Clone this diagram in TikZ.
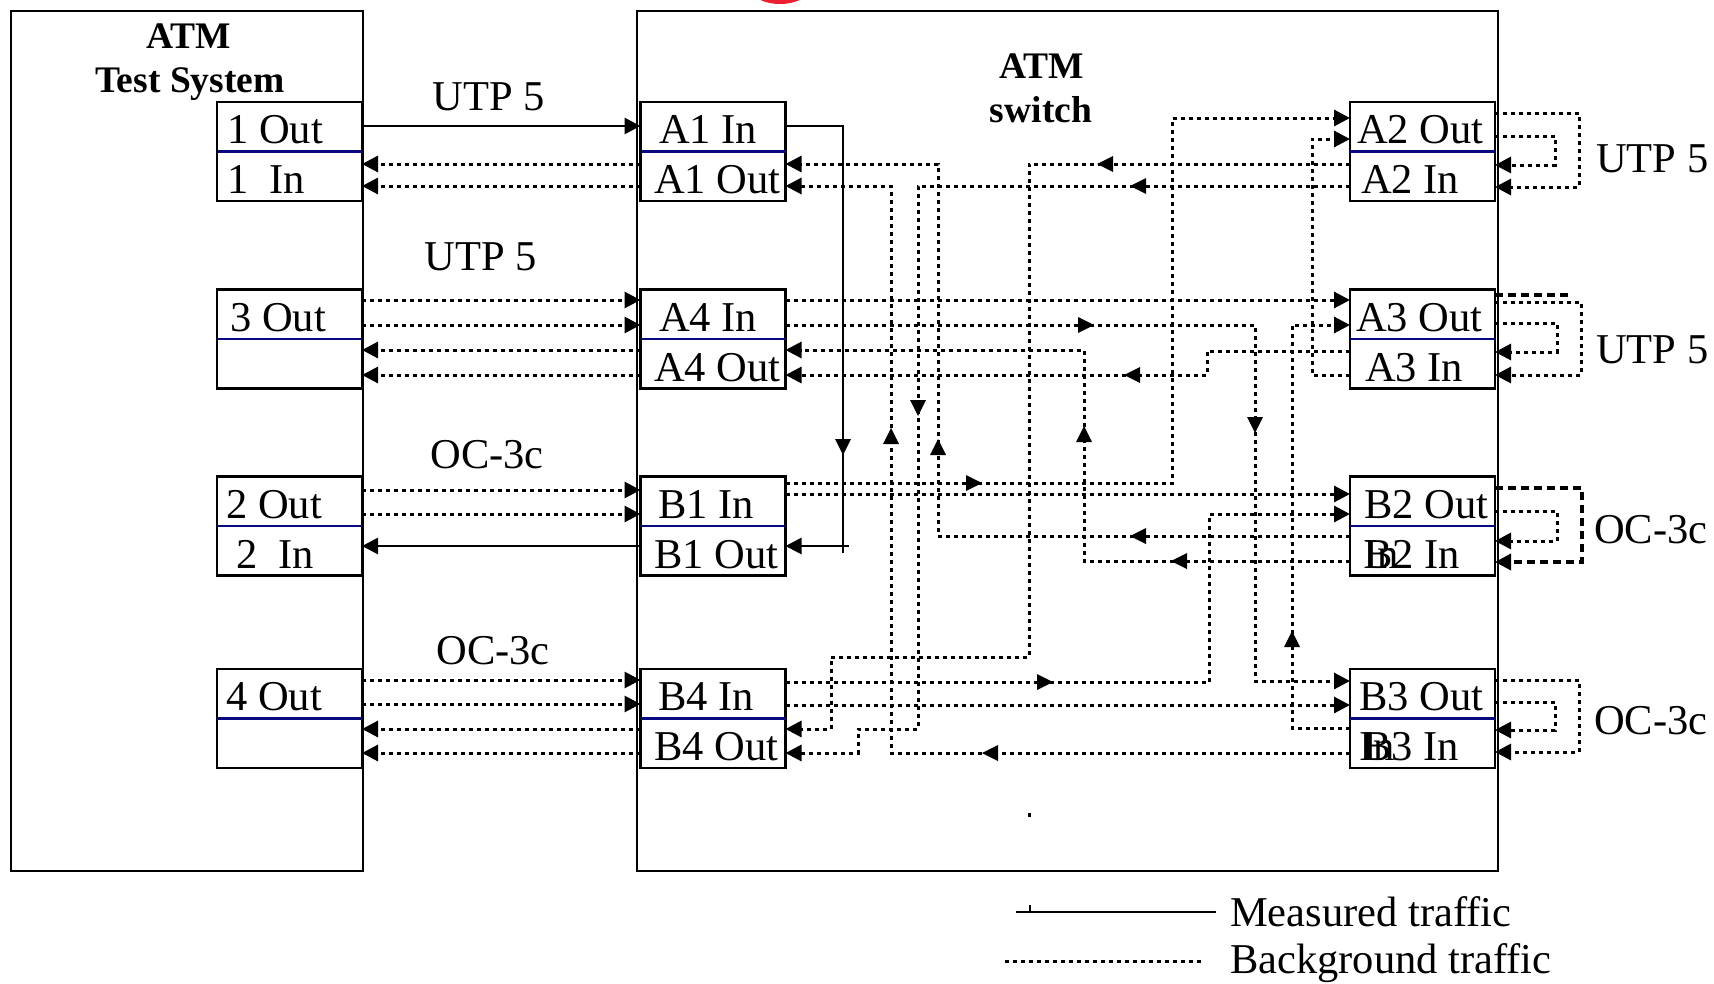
\documentclass[tikz,border=0pt]{standalone}
\usepackage{fontspec}
\setmainfont{Liberation Serif}
\usetikzlibrary{arrows.meta}
\definecolor{divblue}{RGB}{10,10,128}
\definecolor{logored}{RGB}{235,30,50}
\newcommand\pfont{\fontsize{42.5}{46}\selectfont}
\newcommand\tfont{\fontsize{37.5}{41}\selectfont\bfseries}
\newcommand\tipR[2]{\fill (#1,#2) -- ++(-16,-8) -- ++(0,16) -- cycle;}
\newcommand\tipL[2]{\fill (#1,#2) -- ++(16,-8) -- ++(0,16) -- cycle;}
\newcommand\tipU[2]{\fill (#1,#2) -- ++(-8,16) -- ++(16,0) -- cycle;}
\newcommand\tipD[2]{\fill (#1,#2) -- ++(-8,-16) -- ++(16,0) -- cycle;}
\begin{document}
\begin{tikzpicture}[x=1pt,y=-1pt,
  >={Triangle[length=16pt,width=16pt]},
  bigbox/.style={draw, line width=2.2pt, inner sep=0pt, outer sep=0pt},
  port/.style={draw, fill=white, line width=2.8pt, minimum width=145pt, minimum height=99pt, inner sep=0pt, outer sep=0pt},
  divl/.style={draw=divblue, line width=2.2pt},
  bgl/.style={line width=3pt, dash pattern=on 4pt off 4pt},
  bgdash/.style={line width=3.5pt, dash pattern=on 8pt off 5pt},
  msl/.style={line width=2.8pt},
  lbl/.style={font=\pfont, inner sep=0pt, anchor=base west},
  lblc/.style={font=\pfont, inner sep=0pt, anchor=base},
  ttl/.style={font=\tfont, inner sep=0pt, anchor=base}]
\useasboundingbox (0,0) rectangle (1714,983);
\fill[logored] (780,-10) ellipse (28 and 14);

% big boxes
\node[bigbox, minimum width=352pt, minimum height=860pt] (ts) at (187,441) {};
\node[bigbox, minimum width=861pt, minimum height=860pt] (sw) at (1067.5,441) {};
\node[ttl] (tsa) at (189,48) {ATM};
\node[ttl] (tsb) at (190,92) {Test System};
\node[ttl] (swa) at (1042,78) {ATM};
\node[ttl] (swb) at (1041,122) {switch};

% ports
\node[port] (p1) at (289.5,151.5) {};
\node[port] (p3) at (289.5,339) {};
\node[port] (p2) at (289.5,526) {};
\node[port] (p4) at (289.5,718.5) {};
\node[port] (a1) at (713,151.5) {};
\node[port] (a4) at (713,339) {};
\node[port] (b1) at (713,526) {};
\node[port] (b4) at (713,718.5) {};
\node[port] (a2) at (1422.5,151.5) {};
\node[port] (a3) at (1422.5,339) {};
\node[port] (b2) at (1422.5,526) {};
\node[port] (b3) at (1422.5,718.5) {};
\foreach \n in {p1,p3,p2,p4,a1,a4,b1,b4,a2,a3,b2,b3}
  \draw[divl] (\n.west) -- (\n.east);

% port texts
\node[lbl] (t1o) at (227,143) {1 Out};
\node[lbl] (t1i) at (227,193) {1~~In};
\node[lbl] (t3o) at (230,331) {3 Out};
\node[lbl] (t2o) at (226,518) {2 Out};
\node[lbl] (t2i) at (236,568) {2~~In};
\node[lbl] (t4o) at (226,710) {4 Out};
\node[lbl] (ta1i) at (659,143) {A1 In};
\node[lbl] (ta1o) at (654,193) {A1 Out};
\node[lbl] (ta4i) at (659,331) {A4 In};
\node[lbl] (ta4o) at (654,381) {A4 Out};
\node[lbl] (tb1i) at (658,518) {B1 In};
\node[lbl] (tb1o) at (654,568) {B1 Out};
\node[lbl] (tb4i) at (658,710) {B4 In};
\node[lbl] (tb4o) at (654,760) {B4 Out};
\node[lbl] (ta2o) at (1357,143) {A2 Out};
\node[lbl] (ta2i) at (1361,193) {A2 In};
\node[lbl] (ta3o) at (1356,331) {A3 Out};
\node[lbl] (ta3i) at (1365,381) {A3 In};
\node[lbl] (tb2o) at (1364,518) {B2 Out};
\node[lbl] (tb2i) at (1364,568) {B2 In};
\node[lbl] (tb2x) at (1363,568) {In};
\node[lbl] (tb3o) at (1359,710) {B3 Out};
\node[lbl] (tb3i) at (1363,760) {B3 In};
\node[lbl] (tb3x) at (1359,760) {In};

% link labels
\node[lblc] (l1) at (489,110) {UTP 5};
\node[lblc] (l2) at (481,270) {UTP 5};
\node[lblc] (l3) at (487,468) {OC-3c};
\node[lblc] (l4) at (493,664) {OC-3c};
\node[lbl] (r1) at (1596,172) {UTP 5};
\node[lbl] (r2) at (1596,363) {UTP 5};
\node[lbl] (r3) at (1594,543) {OC-3c};
\node[lbl] (r4) at (1594,734) {OC-3c};

% test system <-> switch
\draw[msl,->] (p1.east|-0,126) -- (a1.west|-0,126);
\draw[bgl,->] (a1.west|-0,164) -- (p1.east|-0,164);
\draw[bgl,->] (a1.west|-0,186) -- (p1.east|-0,186);
\draw[bgl,->] (p3.east|-0,300) -- (a4.west|-0,300);
\draw[bgl,->] (p3.east|-0,325) -- (a4.west|-0,325);
\draw[bgl,->] (a4.west|-0,350) -- (p3.east|-0,350);
\draw[bgl,->] (a4.west|-0,375) -- (p3.east|-0,375);
\draw[bgl,->] (p2.east|-0,490) -- (b1.west|-0,490);
\draw[bgl,->] (p2.east|-0,514) -- (b1.west|-0,514);
\draw[msl,->] (b1.west|-0,546) -- (p2.east|-0,546);
\draw[bgl,->] (p4.east|-0,680) -- (b4.west|-0,680);
\draw[bgl,->] (p4.east|-0,704) -- (b4.west|-0,704);
\draw[bgl,->] (b4.west|-0,729) -- (p4.east|-0,729);
\draw[bgl,->] (b4.west|-0,753) -- (p4.east|-0,753);

% measured path inside switch
\coordinate (mc1) at (843,126);
\coordinate (mc2) at (843,553);
\coordinate (mc3) at (849,546);
\draw[msl] (a1.east|-0,126) -- (mc1) -- (mc2);
\draw[msl,->] (mc3) -- (b1.east|-0,546);
\tipD{843}{455}

% background paths inside switch
\draw[bgl,->] (a2.west|-0,164) -| (1029,657) -| (831,729) -- (b4.east|-0,729);
\tipL{1097}{164}
\draw[bgl,->] (a2.west|-0,186) -| (918,729) -| (858,753) -- (b4.east|-0,753);
\tipL{1130}{186} \tipD{918}{416}
\draw[bgl,->] (b2.west|-0,536) -| (938,164) -- (a1.east|-0,164);
\tipL{1130}{536} \tipU{938}{439}
\draw[bgl,->] (b3.west|-0,753) -| (891,186) -- (a1.east|-0,186);
\tipL{982}{753} \tipU{891}{428}
\draw[bgl,->] (a4.east|-0,300) -- (a3.west|-0,300);
\draw[bgl,->] (a4.east|-0,325) -| (1255,681) -- (b3.west|-0,681);
\tipR{1094}{325} \tipD{1255}{433}
\draw[bgl,->] (b3.west|-0,728) -| (1292,325) -- (a3.west|-0,325);
\tipU{1292}{631}
\draw[bgl,->] (a3.west|-0,375) -| (1312,139) -- (a2.west|-0,139);
\draw[bgl,->] (a3.west|-0,351) -| (1207,375) -- (a4.east|-0,375);
\tipL{1124}{375}
\draw[bgl,->] (b2.west|-0,561) -| (1084,350) -- (a4.east|-0,350);
\tipL{1171}{561} \tipU{1084}{426}
\draw[bgl,->] (b1.east|-0,483) -| (1172,118) -- (a2.west|-0,118);
\tipR{982}{483}
\draw[bgl,->] (b1.east|-0,494) -- (b2.west|-0,494);
\draw[bgl,->] (b4.east|-0,682) -| (1209,514) -- (b2.west|-0,514);
\tipR{1053}{682}
\draw[bgl,->] (b4.east|-0,705) -- (b3.west|-0,705);

% loopbacks outside the switch
\draw[bgl,->] (a2.east|-0,113) -| (1579,187) -- (a2.east|-0,187);
\draw[bgl,->] (a2.east|-0,136) -| (1555,165) -- (a2.east|-0,165);
\coordinate (st) at (1568,295);
\draw[bgdash] (a3.east|-0,295) -- (st);
\draw[bgl,->] (a3.east|-0,302) -| (1581,375) -- (a3.east|-0,375);
\draw[bgl,->] (a3.east|-0,323) -| (1557,352) -- (a3.east|-0,352);
\draw[bgdash,->] (b2.east|-0,488) -| (1582,562) -- (b2.east|-0,562);
\draw[bgl,->] (b2.east|-0,511) -| (1557,541) -- (b2.east|-0,541);
\draw[bgl,->] (b3.east|-0,680) -| (1579,752) -- (b3.east|-0,752);
\draw[bgl,->] (b3.east|-0,702) -| (1555,730) -- (b3.east|-0,730);

% stray dot
\fill (1028,813) rectangle (1031,817);

% legend
\coordinate (lm1) at (1016,912);
\coordinate (lm2) at (1216,912);
\draw[msl] (lm1) -- (lm2);
\draw[line width=1.5pt] (1030,905) -- (1030,912);
\node[lbl] (lmt) at (1230,926) {Measured traffic};
\coordinate (lb1) at (1005,961);
\coordinate (lb2) at (1203,961);
\draw[bgl] (lb1) -- (lb2);
\node[lbl] (lbt) at (1230,973) {Background traffic};
\end{tikzpicture}
\end{document}
